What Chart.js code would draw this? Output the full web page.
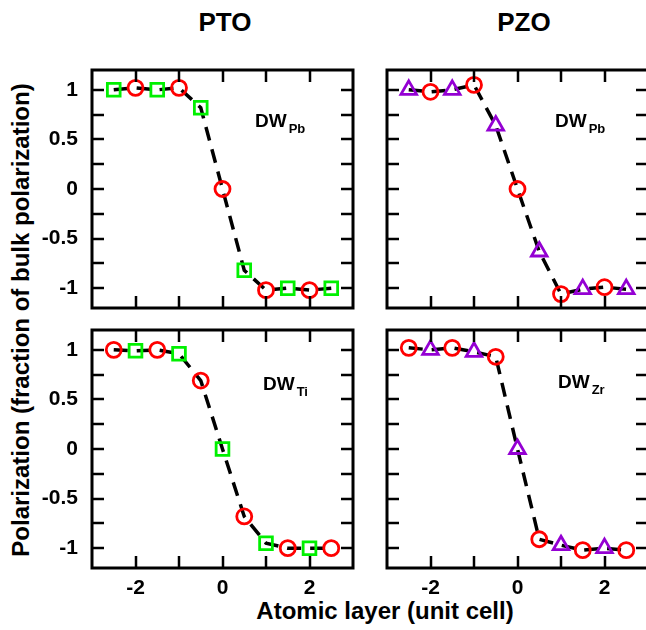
<!DOCTYPE html>
<html>
<head>
<meta charset="utf-8">
<script src="https://cdn.jsdelivr.net/npm/chart.js@4.4.1/dist/chart.umd.min.js"></script>
<style>
  html, body { margin: 0; padding: 0; background: #fff; overflow: hidden; }
  #wrap { position: relative; width: 646px; height: 630px; overflow: hidden;
          font-family: "Liberation Sans", Arial, sans-serif; font-weight: bold; color: #000; }
  #wrap canvas { position: absolute; }
  .lbl { position: absolute; white-space: nowrap; transform: translate(-50%, -50%); }
  #ttlPTO { left: 225px; top: 22px; font-size: 26px; }
  #ttlPZO { left: 524px; top: 22px; font-size: 26px; }
  #xTitle { left: 385px; top: 611px; font-size: 24px; }
  #yTitle { left: 21px; top: 320px; font-size: 24px; transform: translate(-50%, -50%) rotate(-90deg); }
</style>
</head>
<body>
<div id="wrap">
  <div class="lbl" id="ttlPTO"></div>
  <div class="lbl" id="ttlPZO"></div>
  <div class="lbl" id="xTitle"></div>
  <div class="lbl" id="yTitle"></div>
  <canvas id="tl"></canvas>
  <canvas id="tr"></canvas>
  <canvas id="bl"></canvas>
  <canvas id="br"></canvas>
</div>
<script>
// --- data ---
const columnTitles = ['PTO', 'PZO'];
const xAxisTitle = 'Atomic layer (unit cell)';
const yAxisTitle = 'Polarization (fraction of bulk polarization)';

const layersInt = [-2, -1, 0, 1, 2];
const layersHalf = [-2.5, -1.5, -0.5, 0.5, 1.5, 2.5];
const xTickMarks = [-2, -1, 0, 1, 2];
const xLabelTicks = [-2, 0, 2];
const yTickMarks = [-1, -0.75, -0.5, -0.25, 0, 0.25, 0.5, 0.75, 1];
const yLabelTicks = [-1, -0.5, 0, 0.5, 1];

// PTO, wall on Pb plane
const ptoPbCircles = [1.02, 1.02, 0, -1.02, -1.02];          // at layersInt
const ptoPbSquares = [1.0, 1.0, 0.82, -0.82, -1.0, -1.0];    // at layersHalf
// PZO, wall on Pb plane
const pzoPbCircles = [0.98, 1.05, 0, -1.06, -0.99];          // at layersInt
const pzoPbTriangles = [1.0, 1.0, 0.64, -0.63, -1.01, -1.01]; // at layersHalf
// PTO, wall on Ti plane
const ptoTiCircles = [1.0, 1.0, 0.69, -0.68, -1.0, -1.0];    // at layersHalf
const ptoTiSquares = [0.99, 0.96, 0, -0.95, -1.0];           // at layersInt
// PZO, wall on Zr plane
const pzoZrCircles = [1.02, 1.02, 0.93, -0.91, -1.02, -1.02]; // at layersHalf
const pzoZrTriangles = [1.0, 0.98, 0, -0.97, -1.0];           // at layersInt

document.getElementById('ttlPTO').textContent = columnTitles[0];
document.getElementById('ttlPZO').textContent = columnTitles[1];
document.getElementById('xTitle').textContent = xAxisTitle;
document.getElementById('yTitle').textContent = yAxisTitle;

const FONT = '"Liberation Sans", Arial, sans-serif';
const TICK = 12;
const markers = {
  circle:   { pointStyle: 'circle',   pointRadius: 7.5, borderColor: '#ff0000' },
  square:   { pointStyle: 'rect',     pointRadius: 9,   borderColor: '#00f000' },
  triangle: { pointStyle: 'triangle', pointRadius: 9,   borderColor: '#9400d3' },
};

const pts = (xs, ys) => xs.map((x, i) => ({ x, y: ys[i] }));
const near = (list, v) => list.find(t => Math.abs(t - v) < 1e-6);

const panels = [
  { id: 'tl', frame: [92, 70, 353, 308], showX: false, showY: true, wall: ['DW', 'Pb'], at: [163, 57],
    sets: [[layersInt, ptoPbCircles, 'circle'], [layersHalf, ptoPbSquares, 'square']] },
  { id: 'tr', frame: [387, 70, 648, 308], showX: false, showY: false, wall: ['DW', 'Pb'], at: [168, 57],
    sets: [[layersInt, pzoPbCircles, 'circle'], [layersHalf, pzoPbTriangles, 'triangle']] },
  { id: 'bl', frame: [92, 330, 353, 568], showX: true, showY: true, wall: ['DW', 'Ti'], at: [171, 60],
    sets: [[layersHalf, ptoTiCircles, 'circle'], [layersInt, ptoTiSquares, 'square']] },
  { id: 'br', frame: [387, 330, 648, 568], showX: true, showY: false, wall: ['DW', 'Zr'], at: [171, 58],
    sets: [[layersHalf, pzoZrCircles, 'circle'], [layersInt, pzoZrTriangles, 'triangle']] },
];

// frame, inward ticks and the wall label
const framePlugin = {
  id: 'frame',
  afterDraw(chart, args, opts) {
    const { ctx, chartArea: a } = chart;
    const { x, y } = chart.scales;
    ctx.save();
    ctx.setLineDash([]);
    ctx.strokeStyle = '#000';
    ctx.lineWidth = 2.5;
    ctx.beginPath();
    xTickMarks.forEach(v => {
      const px = Math.round(x.getPixelForValue(v));
      ctx.moveTo(px, a.bottom); ctx.lineTo(px, a.bottom - TICK);
      ctx.moveTo(px, a.top); ctx.lineTo(px, a.top + TICK);
    });
    yTickMarks.forEach(v => {
      const py = Math.round(y.getPixelForValue(v));
      ctx.moveTo(a.left, py); ctx.lineTo(a.left + TICK, py);
      ctx.moveTo(a.right, py); ctx.lineTo(a.right - TICK, py);
    });
    ctx.stroke();
    ctx.lineWidth = 3;
    ctx.strokeRect(a.left, a.top, a.right - a.left, a.bottom - a.top);

    const [main, sub] = opts.wall;
    const bx = a.left + opts.at[0], by = a.top + opts.at[1];
    ctx.fillStyle = '#000';
    ctx.textBaseline = 'alphabetic';
    ctx.textAlign = 'left';
    ctx.font = 'bold 19px ' + FONT;
    ctx.fillText(main, bx, by);
    const w = ctx.measureText(main).width;
    ctx.font = 'bold 13px ' + FONT;
    ctx.fillText(sub, bx + w + 2, by + 6);
    ctx.restore();
  }
};

panels.forEach(p => {
  const [x0, y0, x1, y1] = p.frame;
  const yw = p.showY ? 62 : 0;
  const xh = p.showX ? 30 : 0;
  const cv = document.getElementById(p.id);
  cv.width = (x1 - x0) + yw + 6;
  cv.height = (y1 - y0) + xh + 8;
  cv.style.left = (x0 - yw - 2) + 'px';
  cv.style.top = (y0 - 4) + 'px';

  const markerSets = p.sets.map(([xs, ys, kind]) => ({
    data: pts(xs, ys),
    showLine: false,
    pointStyle: markers[kind].pointStyle,
    pointRadius: markers[kind].pointRadius,
    pointBorderColor: markers[kind].borderColor,
    pointBackgroundColor: 'rgba(0,0,0,0)',
    pointBorderWidth: 2.8,
    order: 1,
  }));
  const curve = markerSets.flatMap(d => d.data).slice().sort((a, b) => a.x - b.x);

  new Chart(cv, {
    type: 'scatter',
    data: {
      datasets: [
        { data: curve, showLine: true, borderColor: '#000', borderWidth: 3.5, borderDash: [14, 9],
          pointRadius: 0, tension: 0, order: 2 },
        ...markerSets,
      ]
    },
    options: {
      responsive: false,
      animation: false,
      events: [],
      layout: { autoPadding: false, padding: { left: 2, top: 4, right: 4, bottom: 4 } },
      plugins: {
        legend: { display: false },
        tooltip: { enabled: false },
        frame: { wall: p.wall, at: p.at },
      },
      scales: {
        x: {
          type: 'linear', min: -3, max: 3,
          grid: { display: false }, border: { display: false },
          afterBuildTicks: s => { s.ticks = xLabelTicks.map(v => ({ value: v })); },
          ticks: {
            display: p.showX, autoSkip: false, maxRotation: 0, padding: 0,
            color: '#000', font: { family: FONT, size: 21, weight: 'bold' },
            callback: v => { const t = near(xLabelTicks, v); return t === undefined ? '' : String(t); },
          },
          afterFit: s => { s.height = xh; s.paddingLeft = 0; s.paddingRight = 0; },
        },
        y: {
          type: 'linear', min: -1.2, max: 1.2,
          grid: { display: false }, border: { display: false },
          afterBuildTicks: s => { s.ticks = yLabelTicks.map(v => ({ value: v })); },
          ticks: {
            display: p.showY, autoSkip: false, padding: 6,
            color: '#000', font: { family: FONT, size: 21, weight: 'bold' },
            callback: v => { const t = near(yLabelTicks, v); return t === undefined ? '' : String(t); },
          },
          afterFit: s => { s.width = yw; s.paddingTop = 0; s.paddingBottom = 0; },
        },
      },
    },
    plugins: [framePlugin],
  });
});
</script>
</body>
</html>
